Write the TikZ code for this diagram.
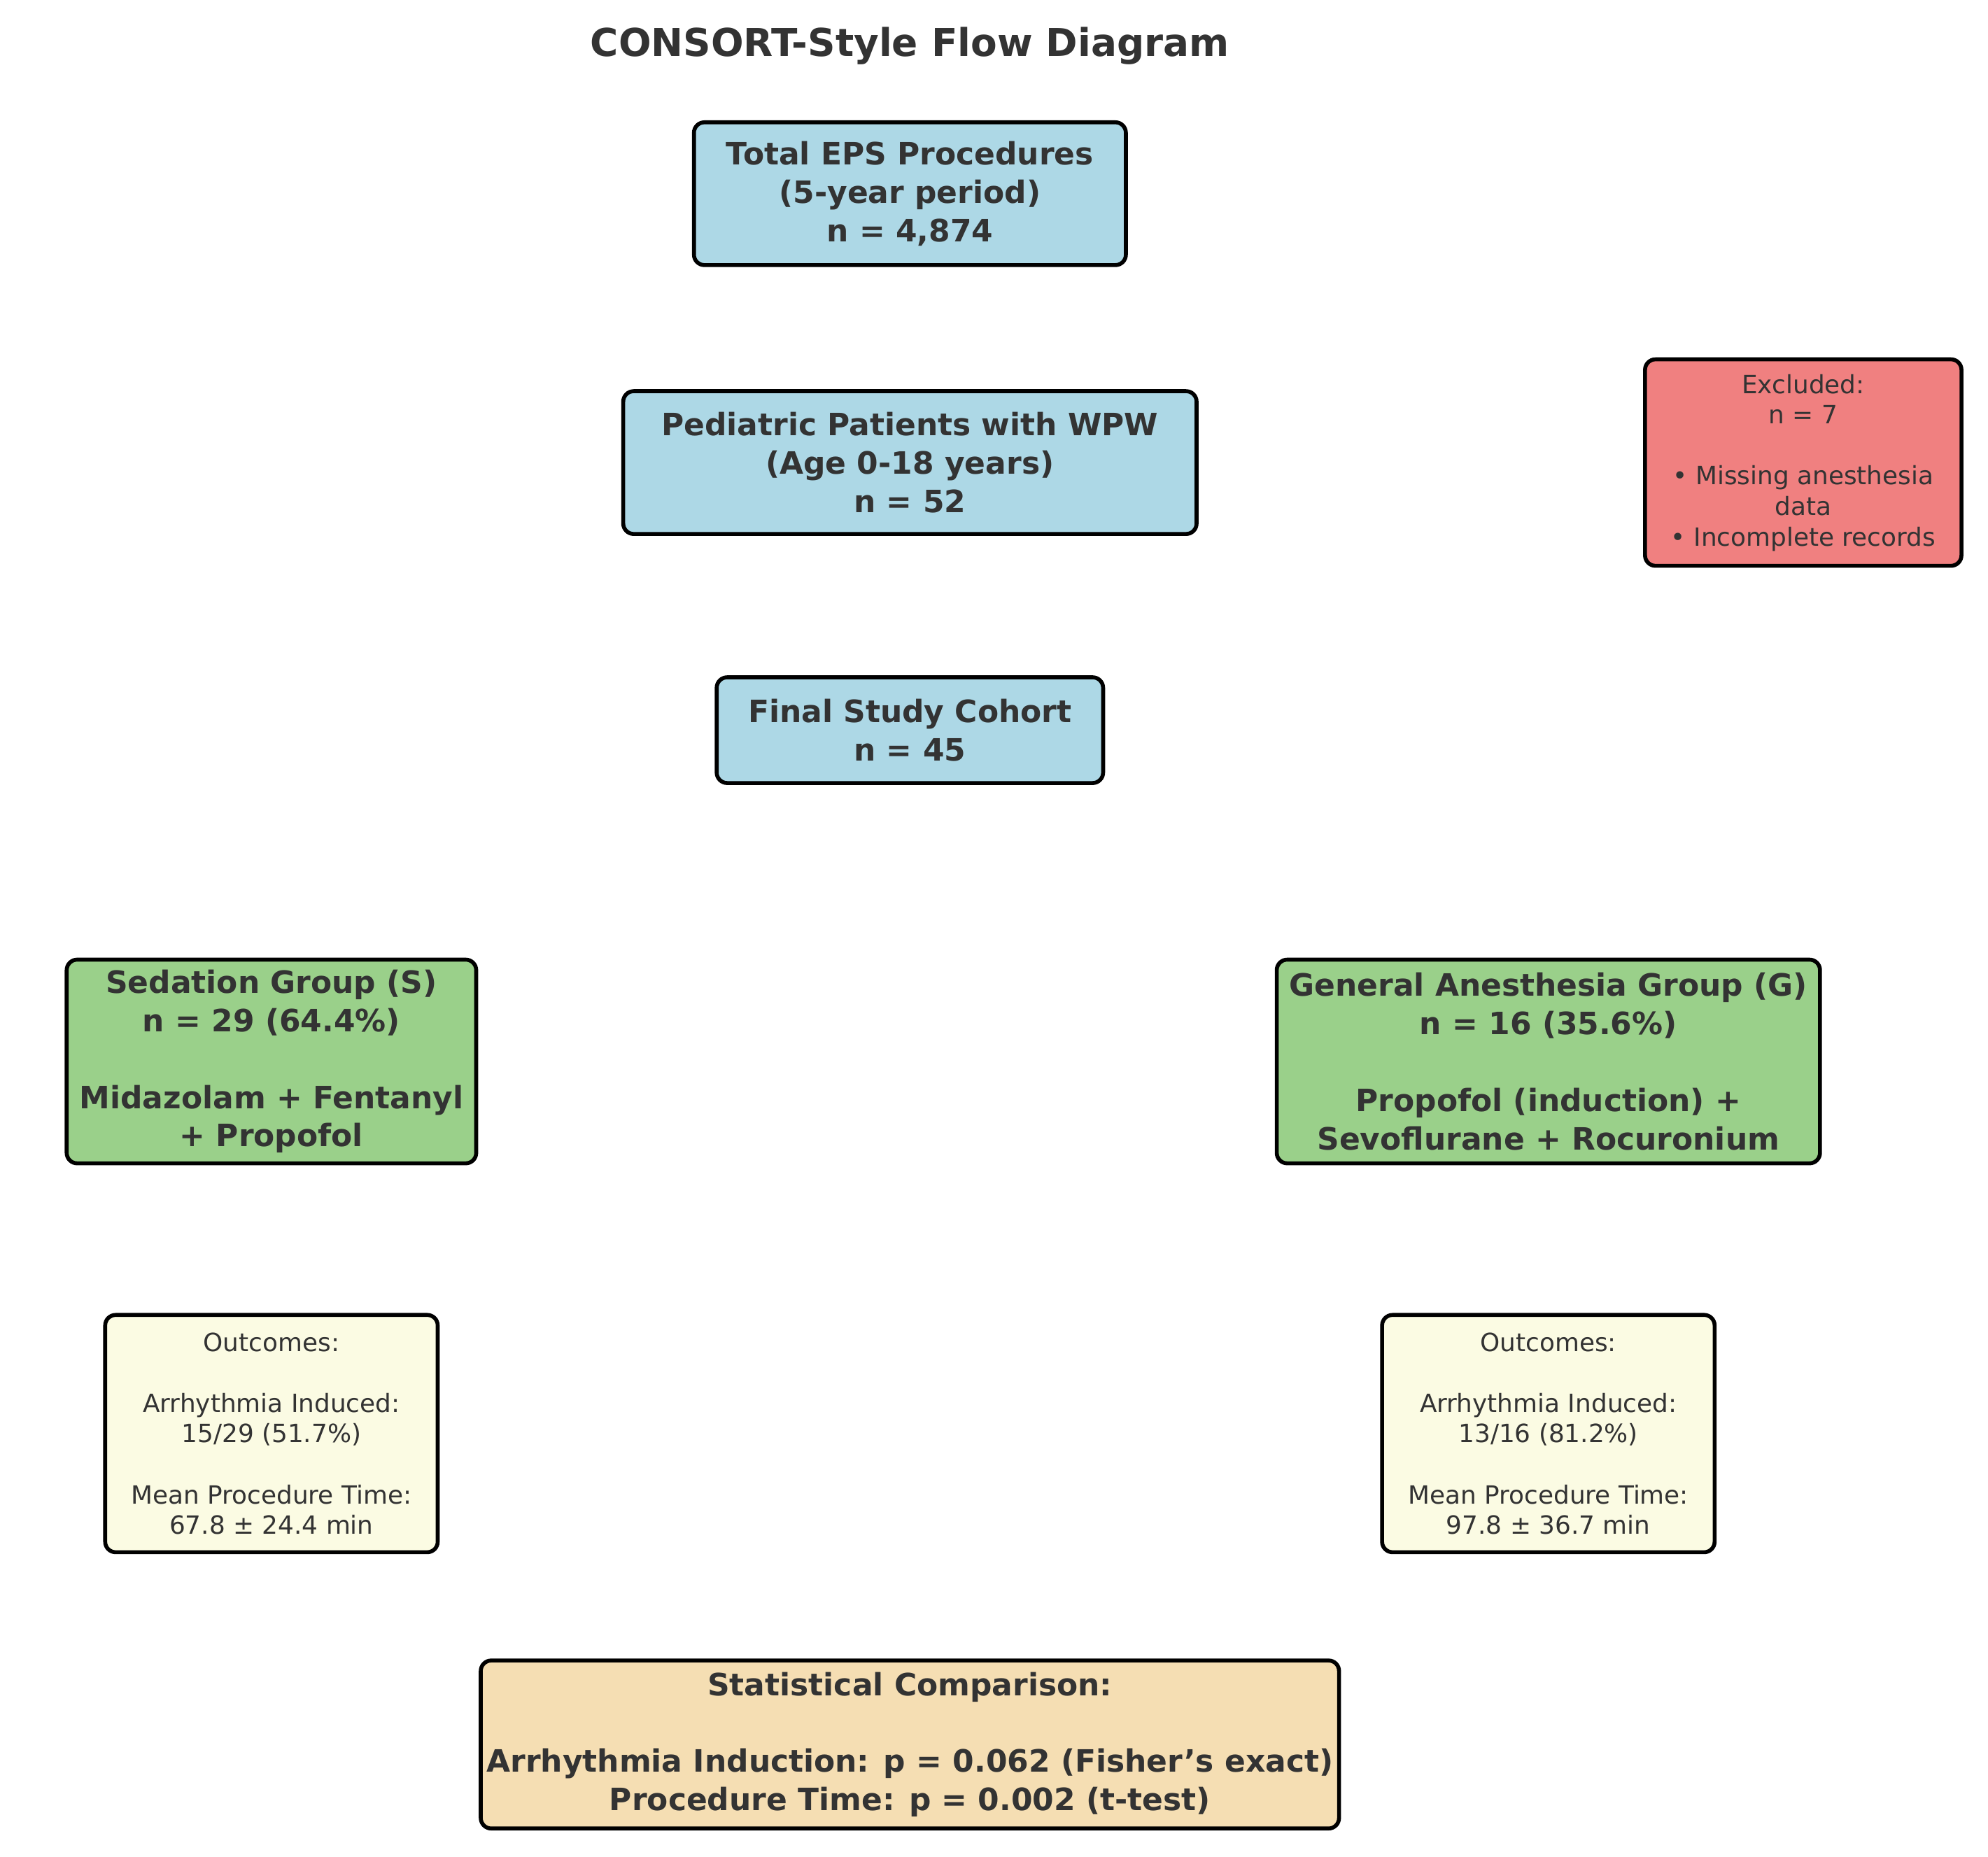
\documentclass[tikz,border=0pt]{standalone}
\usepackage{fontspec}
\setmainfont{DejaVu Sans}
\begin{document}
\begin{tikzpicture}[x=0.01821cm,y=-0.01821cm,
  box/.style={draw=black,line width=1.6pt,rounded corners=0.15cm,align=center,text=black!80,inner sep=0pt},
  big/.style={font=\fontsize{12.5}{15.6}\selectfont\bfseries},
  small/.style={font=\fontsize{10.2}{12.4}\selectfont}]
\definecolor{lb}{HTML}{ADD8E6}\definecolor{lc}{HTML}{F08080}
\definecolor{lg}{HTML}{9AD08A}\definecolor{ly}{HTML}{FBFBE3}\definecolor{wh}{HTML}{F5DEB3}
\useasboundingbox (0,0) rectangle (1560,1457);
\node[font=\fontsize{15.6}{18}\selectfont\bfseries,text=black!80] (title) at (714,36) {CONSORT-Style Flow Diagram};
\node[box,big,fill=lb,minimum width=6.17cm,minimum height=2.04cm] (total) at (714,152) {Total EPS Procedures\\(5-year period)\\n = 4,874};
\node[box,big,fill=lb,minimum width=8.19cm,minimum height=2.04cm] (ped) at (714,363) {Pediatric Patients with WPW\\(Age 0-18 years)\\n = 52};
\node[box,big,fill=lb,minimum width=5.52cm,minimum height=1.51cm] (final) at (714,573) {Final Study Cohort\\n = 45};
\node[box,small,fill=lc,minimum width=4.52cm,minimum height=2.95cm] (excl) at (1415,363) {Excluded:\\n = 7\\[12.4pt]• Missing anesthesia\\data\\• Incomplete records};
\node[box,big,fill=lg,minimum width=5.85cm,minimum height=2.91cm] (sed) at (213,833) {Sedation Group (S)\\n = 29 (64.4\%)\\[15.6pt]Midazolam + Fentanyl\\+ Propofol};
\node[box,big,fill=lg,minimum width=7.76cm,minimum height=2.91cm] (ga) at (1215,833) {General Anesthesia Group (G)\\n = 16 (35.6\%)\\[15.6pt]Propofol (induction) +\\Sevoflurane + Rocuronium};
\node[box,small,fill=ly,minimum width=4.75cm,minimum height=3.39cm] (outs) at (213,1125) {Outcomes:\\[12.4pt]Arrhythmia Induced:\\15/29 (51.7\%)\\[12.4pt]Mean Procedure Time:\\67.8 ± 24.4 min};
\node[box,small,fill=ly,minimum width=4.75cm,minimum height=3.39cm] (outg) at (1215,1125) {Outcomes:\\[12.4pt]Arrhythmia Induced:\\13/16 (81.2\%)\\[12.4pt]Mean Procedure Time:\\97.8 ± 36.7 min};
\node[box,big,fill=wh,minimum width=12.26cm,minimum height=2.40cm] (stats) at (714,1369) {Statistical Comparison:\\[15.6pt]Arrhythmia Induction: p = 0.062 (Fisher's exact)\\Procedure Time: p = 0.002 (t-test)};
\end{tikzpicture}
\end{document}
